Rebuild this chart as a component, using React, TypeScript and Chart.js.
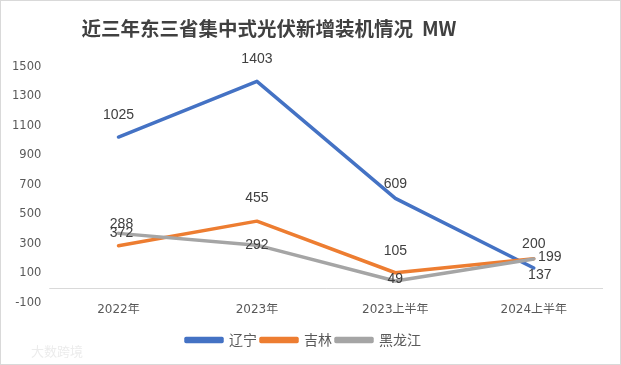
import React, { useEffect, useRef } from "react";
import { Chart, registerables } from "chart.js";

Chart.register(...registerables);

const TITLE = "近三年东三省集中式光伏新增装机情况  MW";
const CATEGORIES = ["2022年", "2023年", "2023上半年", "2024上半年"];
const SERIES_NAMES = ["辽宁", "吉林", "黑龙江"];
const LIAONING = [1025, 1403, 609, 137];
const JILIN = [288, 455, 105, 200];
const HEILONGJIANG = [372, 292, 49, 199];
const Y_TICKS = [-100, 100, 300, 500, 700, 900, 1100, 1300, 1500];
const COLORS = ["#4472C4", "#ED7D31", "#A5A5A5"];

// label offsets relative to each point (style, not data)
const LABEL_OFFSETS: number[][][] = [
  [[0, -22], [0, -22], [0, -14], [6, 7]],
  [[3, -22], [0, -23], [0, -22], [0, -15]],
  [[3, 0], [0, 0], [0, -2], [16, -2]],
];

const titlePlugin = {
  id: "customTitle",
  afterDraw(chart: any) {
    const ctx = chart.ctx;
    ctx.save();
    ctx.font = 'bold 19.5px "Noto Sans CJK SC", "Liberation Sans", sans-serif';
    ctx.fillStyle = "#404040";
    ctx.textAlign = "center";
    ctx.textBaseline = "middle";
    ctx.fillText(TITLE, 268, 28);
    ctx.font = '13px "Noto Sans CJK SC", sans-serif';
    ctx.fillStyle = "#ececec";
    ctx.textAlign = "left";
    ctx.fillText("大数跨境", 30, 350);
    ctx.restore();
  },
};

const zeroLinePlugin = {
  id: "zeroLine",
  beforeDatasetsDraw(chart: any) {
    const { ctx, chartArea, scales } = chart;
    const y = Math.round(scales.y.getPixelForValue(0)) + 0.5;
    ctx.save();
    ctx.strokeStyle = "#d9d9d9";
    ctx.lineWidth = 1;
    ctx.beginPath();
    ctx.moveTo(chartArea.left, y);
    ctx.lineTo(chartArea.right, y);
    ctx.stroke();
    ctx.restore();
  },
};

const labelPlugin = {
  id: "pointLabels",
  afterDatasetsDraw(chart: any) {
    const ctx = chart.ctx;
    ctx.save();
    ctx.font = '14px "Liberation Sans", sans-serif';
    ctx.fillStyle = "#404040";
    ctx.textAlign = "center";
    ctx.textBaseline = "middle";
    chart.data.datasets.forEach((ds: any, di: number) => {
      const meta = chart.getDatasetMeta(di);
      meta.data.forEach((pt: any, i: number) => {
        const off = LABEL_OFFSETS[di][i];
        ctx.fillText(String(ds.data[i]), pt.x + off[0], pt.y + off[1]);
      });
    });
    ctx.restore();
  },
};

export default function App() {
  const ref = useRef<HTMLCanvasElement | null>(null);
  useEffect(() => {
    if (!ref.current) return;
    const seriesData = [LIAONING, JILIN, HEILONGJIANG];
    const chart = new Chart(ref.current, {
      type: "line",
      data: {
        labels: CATEGORIES,
        datasets: seriesData.map((d, i) => ({
          label: SERIES_NAMES[i],
          data: d,
          order: seriesData.length - 1 - i,
          borderColor: COLORS[i],
          backgroundColor: COLORS[i],
          borderWidth: 3.5,
          pointRadius: 0,
          tension: 0,
          borderCapStyle: "round",
          borderJoinStyle: "round",
        })),
      },
      options: {
        animation: false,
        responsive: true,
        maintainAspectRatio: false,
        layout: { padding: { top: 66, left: 3, right: 17, bottom: 7 } },
        plugins: {
          title: { display: false },
          tooltip: { enabled: false },
          legend: {
            position: "bottom",
            labels: {
              boxWidth: 36,
              boxHeight: 3,
              padding: 4,
              color: "#595959",
              font: { size: 14, family: '"Noto Sans CJK SC", sans-serif' },
              sort: (a: any, b: any) => a.datasetIndex - b.datasetIndex,
            },
          },
        },
        scales: {
          x: {
            offset: true,
            grid: { display: false, drawTicks: false },
            border: { display: false },
            afterFit: (scale: any) => {
              scale.height = 26;
            },
            ticks: {
              padding: 0,
              color: "#595959",
              font: { size: 12, family: '"DejaVu Sans", "Noto Sans CJK SC", sans-serif' },
            },
          },
          y: {
            min: Y_TICKS[0],
            max: Y_TICKS[Y_TICKS.length - 1],
            afterBuildTicks: (axis: any) => {
              axis.ticks = Y_TICKS.map((v) => ({ value: v }));
            },
            grid: { display: false, drawTicks: false },
            border: { display: false },
            ticks: {
              padding: 8,
              color: "#595959",
              font: { size: 11.5, family: '"DejaVu Sans", sans-serif' },
              callback: (v: any) => String(v),
            },
          },
        },
      },
      plugins: [titlePlugin, zeroLinePlugin, labelPlugin],
    } as any);
    return () => chart.destroy();
  }, []);
  return (
    <div
      style={{
        position: "absolute",
        left: 0,
        top: 0,
        width: 621,
        height: 365,
        boxSizing: "border-box",
        border: "1px solid #d9d9d9",
        background: "#fff",
      }}
    >
      <canvas ref={ref} />
    </div>
  );
}
